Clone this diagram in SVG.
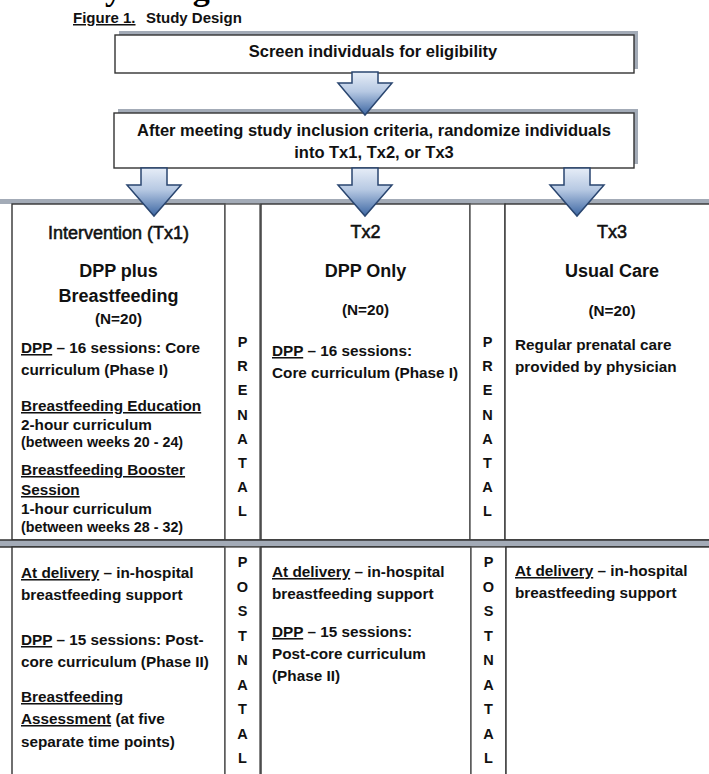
<svg xmlns="http://www.w3.org/2000/svg" width="709" height="774" viewBox="0 0 709 774">
<defs>
<linearGradient id="ag" x1="0" y1="0" x2="0" y2="1">
<stop offset="0" stop-color="#e6edf7"/>
<stop offset="0.45" stop-color="#b7c9e3"/>
<stop offset="1" stop-color="#3d67a3"/>
</linearGradient>
<style>
.t{font-family:'Liberation Sans',Arial,sans-serif;fill:#111}
.body{font-size:15.3px;font-weight:bold}
.small{font-size:14.3px;font-weight:bold}
.h1{font-size:18px;text-anchor:middle;stroke:#111;stroke-width:0.55}
.h2{font-size:18px;font-weight:bold;text-anchor:middle}
.n{font-size:15.3px;font-weight:bold;text-anchor:middle}
.v{font-size:14.5px;font-weight:bold;text-anchor:middle}
.top{font-size:16.5px;font-weight:bold;text-anchor:middle}
.u{text-decoration:underline}
.box{fill:#fff;stroke:#333;stroke-width:1.4}
.nbox{fill:#fff;stroke:#555;stroke-width:1.4}
.shadow{fill:#a3abb7}
.arrow{fill:url(#ag);stroke:#2a4670;stroke-width:1.5;stroke-linejoin:miter}
</style>
</defs>
<rect width="709" height="774" fill="#fff"/>
<text x="37" y="0" style="font-family:'Liberation Serif','Times New Roman',serif;font-size:34px;font-weight:bold;fill:#000">Study Design</text>
<text class="t" x="73" y="23" style="font-size:15px;font-weight:bold"><tspan class="u">Figure 1.</tspan><tspan x="146">Study Design</tspan></text>

<g id="screen">
<rect class="shadow" x="119" y="31" width="519" height="38"/>
<rect class="box" x="115" y="35" width="519" height="38"/>
<text class="t top" x="373" y="57">Screen individuals for eligibility</text>
</g>

<g id="randomize">
<rect class="shadow" x="118" y="109" width="520" height="55"/>
<rect class="box" x="114" y="113" width="520" height="55"/>
<text class="t top" x="374" y="136">After meeting study inclusion criteria, randomize individuals</text>
<text class="t top" x="374" y="158">into Tx1, Tx2, or Tx3</text>
</g>

<g id="prenatal-row">
<rect class="shadow" x="0" y="199" width="709" height="5"/>
<g id="tx1-prenatal">
<rect class="box" x="12" y="204" width="213" height="336"/>
<text class="t h1" x="118.5" y="239">Intervention (Tx1)</text>
<text class="t h2" x="118.5" y="277">DPP plus</text>
<text class="t h2" x="118.5" y="302">Breastfeeding</text>
<text class="t n" x="118.5" y="324">(N=20)</text>
<text class="t body" x="21" y="353"><tspan class="u">DPP</tspan> – 16 sessions: Core</text>
<text class="t body" x="21" y="375">curriculum (Phase I)</text>
<text class="t body" x="21" y="411"><tspan class="u">Breastfeeding Education</tspan></text>
<text class="t body" x="21" y="430">2-hour curriculum</text>
<text class="t small" x="21" y="447">(between weeks 20 - 24)</text>
<text class="t body" x="21" y="475"><tspan class="u">Breastfeeding Booster</tspan></text>
<text class="t body" x="21" y="495"><tspan class="u">Session</tspan></text>
<text class="t body" x="21" y="514">1-hour curriculum</text>
<text class="t small" x="21" y="532">(between weeks 28 - 32)</text>
</g>
<g id="prenatal-label-1">
<rect class="nbox" x="225" y="204" width="35" height="336"/>
<text class="t v" x="242.5" y="347"><tspan x="242.5">P</tspan><tspan x="242.5" dy="24.2">R</tspan><tspan x="242.5" dy="24.2">E</tspan><tspan x="242.5" dy="24.2">N</tspan><tspan x="242.5" dy="24.2">A</tspan><tspan x="242.5" dy="24.2">T</tspan><tspan x="242.5" dy="24.2">A</tspan><tspan x="242.5" dy="24.2">L</tspan></text>
</g>
<g id="tx2-prenatal">
<rect class="box" x="261" y="204" width="209" height="336"/>
<text class="t h1" x="365.5" y="238">Tx2</text>
<text class="t h2" x="365.5" y="277">DPP Only</text>
<text class="t n" x="365.5" y="315">(N=20)</text>
<text class="t body" x="272" y="356"><tspan class="u">DPP</tspan> – 16 sessions:</text>
<text class="t body" x="272" y="378">Core curriculum (Phase I)</text>
</g>
<g id="prenatal-label-2">
<rect class="nbox" x="470" y="204" width="35" height="336"/>
<text class="t v" x="487.5" y="347"><tspan x="487.5">P</tspan><tspan x="487.5" dy="24.2">R</tspan><tspan x="487.5" dy="24.2">E</tspan><tspan x="487.5" dy="24.2">N</tspan><tspan x="487.5" dy="24.2">A</tspan><tspan x="487.5" dy="24.2">T</tspan><tspan x="487.5" dy="24.2">A</tspan><tspan x="487.5" dy="24.2">L</tspan></text>
</g>
<g id="tx3-prenatal">
<rect class="box" x="505" y="204" width="215" height="336"/>
<text class="t h1" x="612" y="238">Tx3</text>
<text class="t h2" x="612" y="277">Usual Care</text>
<text class="t n" x="612" y="316">(N=20)</text>
<text class="t body" x="515" y="350">Regular prenatal care</text>
<text class="t body" x="515" y="372">provided by physician</text>
</g>
</g>

<g id="divider">
<rect class="shadow" x="0" y="540" width="709" height="7"/>
<line x1="0" y1="540" x2="709" y2="540" stroke="#333" stroke-width="1.5"/>
<line x1="0" y1="547" x2="709" y2="547" stroke="#333" stroke-width="1.5"/>
</g>

<g id="postnatal-row">
<g id="tx1-postnatal">
<rect class="box" x="12" y="547" width="213" height="240"/>
<text class="t body" x="21" y="578"><tspan class="u">At delivery</tspan> – in-hospital</text>
<text class="t body" x="21" y="600">breastfeeding support</text>
<text class="t body" x="21" y="645"><tspan class="u">DPP</tspan> – 15 sessions: Post-</text>
<text class="t body" x="21" y="667">core curriculum (Phase II)</text>
<text class="t body" x="21" y="702"><tspan class="u">Breastfeeding</tspan></text>
<text class="t body" x="21" y="724"><tspan class="u">Assessment</tspan> (at five</text>
<text class="t body" x="21" y="747">separate time points)</text>
</g>
<g id="postnatal-label-1">
<rect class="nbox" x="225" y="547" width="35" height="240"/>
<text class="t v" x="242.5" y="567"><tspan x="242.5">P</tspan><tspan x="242.5" dy="24.5">O</tspan><tspan x="242.5" dy="24.5">S</tspan><tspan x="242.5" dy="24.5">T</tspan><tspan x="242.5" dy="24.5">N</tspan><tspan x="242.5" dy="24.5">A</tspan><tspan x="242.5" dy="24.5">T</tspan><tspan x="242.5" dy="24.5">A</tspan><tspan x="242.5" dy="24.5">L</tspan></text>
</g>
<g id="tx2-postnatal">
<rect class="box" x="261" y="547" width="210" height="240"/>
<text class="t body" x="272" y="577"><tspan class="u">At delivery</tspan> – in-hospital</text>
<text class="t body" x="272" y="599">breastfeeding support</text>
<text class="t body" x="272" y="637"><tspan class="u">DPP</tspan> – 15 sessions:</text>
<text class="t body" x="272" y="659">Post-core curriculum</text>
<text class="t body" x="272" y="681">(Phase II)</text>
</g>
<g id="postnatal-label-2">
<rect class="nbox" x="471" y="547" width="35" height="240"/>
<text class="t v" x="488.5" y="567"><tspan x="488.5">P</tspan><tspan x="488.5" dy="24.5">O</tspan><tspan x="488.5" dy="24.5">S</tspan><tspan x="488.5" dy="24.5">T</tspan><tspan x="488.5" dy="24.5">N</tspan><tspan x="488.5" dy="24.5">A</tspan><tspan x="488.5" dy="24.5">T</tspan><tspan x="488.5" dy="24.5">A</tspan><tspan x="488.5" dy="24.5">L</tspan></text>
</g>
<g id="tx3-postnatal">
<rect class="box" x="506" y="547" width="215" height="240"/>
<text class="t body" x="515" y="576"><tspan class="u">At delivery</tspan> – in-hospital</text>
<text class="t body" x="515" y="598">breastfeeding support</text>
</g>
</g>

<g id="connectors">
<path class="arrow" d="M352,72 L378,72 L378,83 L392,83 L365,115 L338,83 L352,83 Z"/>
<path class="arrow" d="M141,168 L167,168 L167,185 L181,185 L154,216 L127,185 L141,185 Z"/>
<path class="arrow" d="M352,168 L378,168 L378,185 L392,185 L365,216 L338,185 L352,185 Z"/>
<path class="arrow" d="M564,168 L590,168 L590,185 L604,185 L577,216 L550,185 L564,185 Z"/>
</g>
</svg>
